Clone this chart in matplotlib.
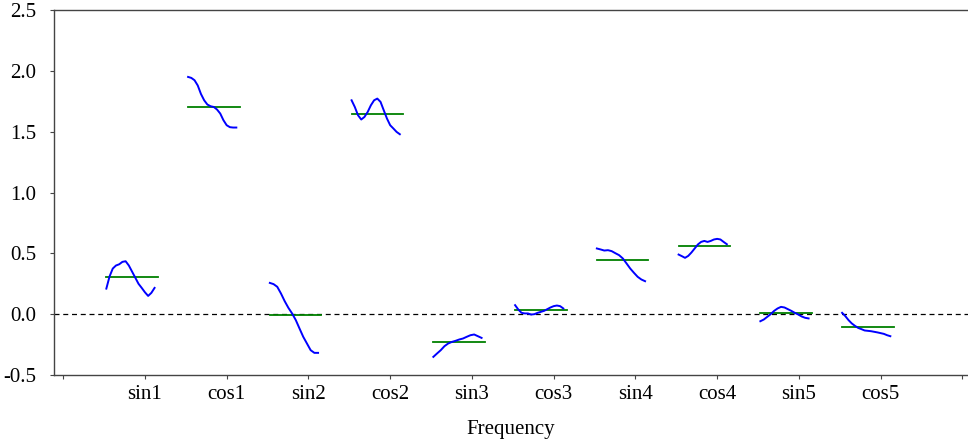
import matplotlib
matplotlib.use("Agg")
import matplotlib.pyplot as plt
import numpy as np

plt.rcParams['font.family'] = ['Liberation Serif', 'DejaVu Serif']
plt.rcParams['axes.unicode_minus'] = False

# subseries labels and their values over time
labels = ['sin1', 'cos1', 'sin2', 'cos2', 'sin3', 'cos3', 'sin4', 'cos4', 'sin5', 'cos5']

sin1 = [0.21, 0.31, 0.375, 0.40, 0.41, 0.43, 0.435, 0.40, 0.35, 0.30, 0.25, 0.216,
        0.18, 0.15, 0.175, 0.216]
cos1 = [1.95, 1.942, 1.923, 1.88, 1.81, 1.758, 1.723, 1.709, 1.703, 1.682, 1.649,
        1.594, 1.553, 1.537, 1.534, 1.534]
sin2 = [0.257, 0.247, 0.225, 0.17, 0.107, 0.052, 0.006, -0.049, -0.118, -0.186,
        -0.241, -0.296, -0.318, -0.318]
cos2 = [1.758, 1.703, 1.635, 1.60, 1.621, 1.662, 1.717, 1.758, 1.772, 1.745, 1.676,
        1.608, 1.553, 1.526, 1.498, 1.479]
sin3 = [-0.351, -0.323, -0.296, -0.263, -0.241, -0.228, -0.219, -0.208, -0.20,
        -0.186, -0.173, -0.167, -0.181, -0.195]
cos3 = [0.074, 0.038, 0.011, 0.006, 0.006, -0.003, 0.0, 0.011, 0.019, 0.027, 0.041,
        0.055, 0.066, 0.071, 0.066, 0.047]
sin4 = [0.54, 0.532, 0.523, 0.526, 0.518, 0.501, 0.485, 0.458, 0.417, 0.375, 0.34,
        0.307, 0.285, 0.271]
cos4 = [0.49, 0.477, 0.463, 0.479, 0.507, 0.54, 0.573, 0.594, 0.602, 0.594, 0.602,
        0.614, 0.619, 0.614, 0.594, 0.575]
sin5 = [-0.058, -0.044, -0.022, 0.0, 0.027, 0.047, 0.06, 0.055, 0.041, 0.027, 0.011,
        -0.003, -0.019, -0.030, -0.035]
cos5 = [0.011, -0.016, -0.049, -0.076, -0.096, -0.113, -0.123, -0.134, -0.137, -0.14,
        -0.145, -0.150, -0.156, -0.162, -0.173, -0.181]

series = [sin1, cos1, sin2, cos2, sin3, cos3, sin4, cos4, sin5, cos5]
means = [0.307, 1.703, -0.008, 1.643, -0.228, 0.033, 0.449, 0.559, 0.006, -0.109]

fig = plt.figure(figsize=(9.68, 4.43), dpi=100)
ax = fig.add_axes([0.0558, 0.1535, 1 - 0.0558, 0.9774 - 0.1535])

ax.axhline(0, color='black', lw=0.9, ls=(0, (4, 3)), zorder=1)

for i, (vals, m) in enumerate(zip(series, means)):
    pos = i + 1
    xs = np.linspace(pos - 0.47, pos + 0.12, len(vals))
    ax.plot(xs, vals, color='#0000ff', lw=1.4, zorder=3)
    ax.plot([pos - 0.47, pos + 0.16], [m, m], color='#008000', lw=1.3, zorder=2)

ax.set_xlim(-0.11, 11.07)
ax.set_ylim(-0.5, 2.5)
ax.set_xticks(range(12))
ax.set_xticklabels([''] + labels + [''])
ax.set_yticks([-0.5, 0.0, 0.5, 1.0, 1.5, 2.0, 2.5])
ax.set_yticklabels(['%.1f' % v for v in [-0.5, 0.0, 0.5, 1.0, 1.5, 2.0, 2.5]])
ax.set_xlabel('Frequency', fontsize=15, labelpad=12)

for s in ['left', 'bottom', 'top']:
    ax.spines[s].set_color('#444444')
    ax.spines[s].set_linewidth(1.0)
ax.spines['right'].set_visible(False)
ax.tick_params(axis='both', direction='out', length=3, width=0.8, color='#444444',
               labelsize=15)
ax.tick_params(axis='x', pad=4)
ax.tick_params(axis='y', pad=10)

fig.savefig('out.png', dpi=100)
